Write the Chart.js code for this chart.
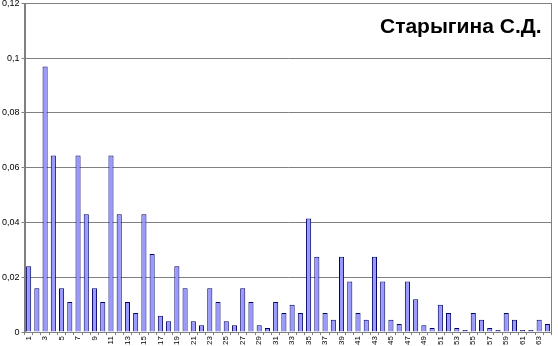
<!DOCTYPE html>
<html>
<head>
<meta charset="utf-8">
<script src="https://cdn.jsdelivr.net/npm/chart.js@4/dist/chart.umd.min.js"></script>
<style>
  html, body { margin: 0; padding: 0; background: #fff; }
  #wrap { width: 558px; height: 346px; overflow: hidden; }
  #myChart { display: block; margin-top: -4px; }
</style>
</head>
<body>
<div id="wrap"><canvas id="myChart" width="558" height="350"></canvas></div>
<script>
// категории 1..64
const categories = [
    1, 2, 3, 4, 5, 6, 7, 8, 9, 10, 11, 12, 13, 14, 15, 16,
    17, 18, 19, 20, 21, 22, 23, 24, 25, 26, 27, 28, 29, 30, 31, 32,
    33, 34, 35, 36, 37, 38, 39, 40, 41, 42, 43, 44, 45, 46, 47, 48,
    49, 50, 51, 52, 53, 54, 55, 56, 57, 58, 59, 60, 61, 62, 63, 64
];

const values = [
    0.024, 0.016, 0.097, 0.0645, 0.016, 0.011, 0.0645, 0.043,
    0.016, 0.011, 0.0645, 0.043, 0.011, 0.007, 0.043, 0.0285,
    0.006, 0.004, 0.024, 0.016, 0.004, 0.0025, 0.016, 0.011,
    0.004, 0.0025, 0.016, 0.011, 0.0025, 0.0015, 0.011, 0.007,
    0.010, 0.007, 0.0415, 0.0275, 0.007, 0.0045, 0.0275, 0.0185,
    0.007, 0.0045, 0.0275, 0.0185, 0.0045, 0.003, 0.0185, 0.012,
    0.0025, 0.0015, 0.010, 0.007, 0.0015, 0.0008, 0.007, 0.0045,
    0.0015, 0.0008, 0.007, 0.0045, 0.0008, 0.0008, 0.0045, 0.003
];

const yTicks = [0, 0.02, 0.04, 0.06, 0.08, 0.1, 0.12];
const titleText = 'Старыгина С.Д.';

const ctx = document.getElementById('myChart');

// рамка области построения и подпись
const framePlugin = {
    id: 'frame',
    afterDraw(chart) {
        const a = chart.chartArea;
        const c = chart.ctx;
        c.save();
        c.strokeStyle = '#808080';
        c.lineWidth = 1;
        c.strokeRect(Math.round(a.left) + 0.5, Math.round(a.top) + 0.5,
            Math.round(a.right - a.left) - 1, Math.round(a.bottom - a.top));
        c.fillStyle = '#000';
        c.font = 'bold 21px "Liberation Sans", Arial, sans-serif';
        c.textAlign = 'right';
        c.textBaseline = 'middle';
        c.fillText(titleText, a.right - 10, a.top + 24);
        c.restore();
    }
};

new Chart(ctx, {
    type: 'bar',
    data: {
        labels: categories,
        datasets: [{
            data: values,
            backgroundColor: '#9999ff',
            borderColor: '#000066',
            borderWidth: 1,
            barPercentage: 0.62,
            categoryPercentage: 1
        }]
    },
    options: {
        responsive: false,
        animation: false,
        layout: { padding: { top: 0, right: 1, left: 0, bottom: 0 } },
        plugins: {
            legend: { display: false },
            tooltip: { enabled: false },
            title: { display: false }
        },
        scales: {
            x: {
                grid: { display: true, drawOnChartArea: false, offset: true, color: '#808080', tickLength: 3 },
                border: { color: '#808080' },
                ticks: {
                    autoSkip: false,
                    minRotation: 90,
                    maxRotation: 90,
                    padding: 1,
                    color: '#000',
                    font: { family: '"Liberation Sans", Arial, sans-serif', size: 8 },
                    callback: function (value, index) {
                        return index % 2 === 0 ? String(categories[index]) : '';
                    }
                }
            },
            y: {
                min: 0,
                max: 0.12,
                afterBuildTicks: function (axis) {
                    axis.ticks = yTicks.map(v => ({ value: v }));
                },
                grid: { color: '#808080', tickLength: 3 },
                border: { color: '#808080' },
                ticks: {
                    padding: 2,
                    color: '#000',
                    font: { family: '"Liberation Sans", Arial, sans-serif', size: 9 },
                    callback: function (value) {
                        return String(Math.round(value * 100) / 100).replace('.', ',');
                    }
                }
            }
        }
    },
    plugins: [framePlugin]
});
</script>
</body>
</html>
